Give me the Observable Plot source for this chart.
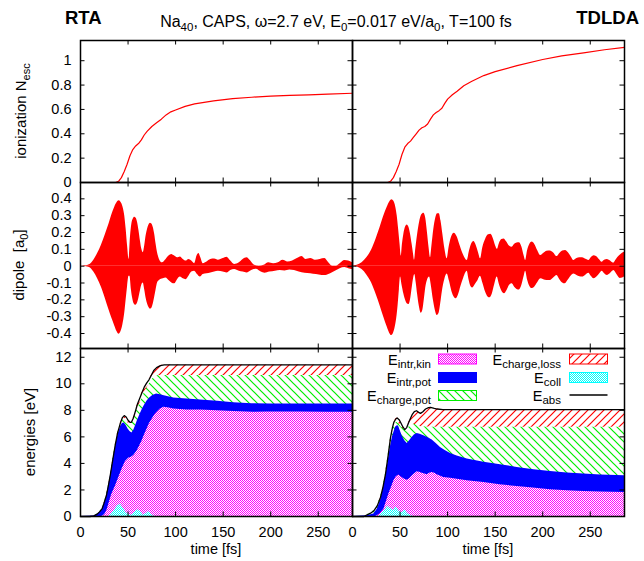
<!DOCTYPE html>
<html><head><meta charset="utf-8">
<script src="https://cdn.jsdelivr.net/npm/d3@7"></script>
<script src="https://cdn.jsdelivr.net/npm/@observablehq/plot@0.6"></script>
<style>
body{margin:0;background:#fff;}
#chart{position:relative;width:644px;height:561px;overflow:hidden;font-family:"Liberation Sans",Arial,Helvetica,sans-serif;}
</style></head><body>
<svg width="0" height="0" style="position:absolute">
<defs>
<pattern id="pKin" width="2" height="2" patternUnits="userSpaceOnUse"><rect width="2" height="2" fill="#fff"/><rect width="1" height="1" fill="#ff00ff"/><rect x="1" y="1" width="1" height="1" fill="#ff00ff"/></pattern>
<pattern id="pColl" width="2" height="2" patternUnits="userSpaceOnUse"><rect width="2" height="2" fill="#fff"/><rect width="1" height="1" fill="#00ffff"/><rect x="1" y="1" width="1" height="1" fill="#00ffff"/></pattern>
<pattern id="pLoss" width="8" height="8" patternUnits="userSpaceOnUse"><rect width="8" height="8" fill="#fff"/><path d="M-2,2 L2,-2 M0,8 L8,0 M6,10 L10,6" stroke="#ff0000" stroke-width="1.2"/></pattern>
<pattern id="pCpot" width="8" height="8" patternUnits="userSpaceOnUse"><rect width="8" height="8" fill="#fff"/><path d="M-2,6 L2,10 M0,0 L8,8 M6,-2 L10,2" stroke="#00ee00" stroke-width="1.2"/></pattern>
</defs></svg>
<div id="chart"></div>
<script>
// ---------------- data ----------------
const xDomain = [0, 286];
const xTicks = [0, 50, 100, 150, 200, 250];
const ionTicks = [0, 0.2, 0.4, 0.6, 0.8, 1];
const dipTicks = [-0.4, -0.3, -0.2, -0.1, 0, 0.1, 0.2, 0.3, 0.4];
const enTicks = [0, 2, 4, 6, 8, 10, 12];

// ionization N_esc  [t (fs), value]
const ionRTA = [[0,0],[30,0],[37,0],[40,0.01],[43,0.04],[46,0.09],[49,0.15],[52,0.22],[55,0.27],[58,0.30],[61,0.32],[64,0.35],[67,0.39],[70,0.42],[75,0.46],[80,0.49],[85,0.52],[90,0.555],[95,0.58],[100,0.595],[110,0.625],[120,0.645],[140,0.67],[160,0.688],[180,0.70],[200,0.71],[220,0.716],[240,0.72],[260,0.726],[286,0.733]];
const ionTDLDA = [[0,0],[37,0],[40,0.01],[43,0.04],[46,0.09],[49,0.15],[52,0.23],[55,0.29],[58,0.32],[61,0.34],[64,0.37],[67,0.40],[70,0.43],[73,0.45],[76,0.46],[79,0.48],[82,0.52],[85,0.555],[88,0.575],[91,0.59],[94,0.61],[97,0.65],[100,0.685],[105,0.72],[110,0.75],[117,0.795],[125,0.83],[138,0.878],[150,0.91],[173,0.96],[200,1.01],[220,1.04],[243,1.065],[265,1.09],[286,1.11]];

// dipole envelopes [t, a0]
const dipRTAUpper = [[0,0],[5,0.002],[10,0.01],[14,0.035],[18,0.075],[22,0.125],[26,0.185],[30,0.25],[33,0.305],[36,0.35],[38.5,0.378],[40.5,0.388],[42.5,0.38],[44.5,0.355],[46.5,0.3],[48,0.22],[49.5,0.12],[51,0.04],[52.5,0.17],[54,0.25],[55.5,0.28],[57,0.29],[58.5,0.285],[60,0.26],[61.5,0.21],[63,0.15],[64.5,0.1],[66,0.08],[67.5,0.12],[69,0.18],[70.5,0.22],[72,0.245],[73.5,0.255],[75,0.25],[76.5,0.23],[78,0.19],[79.5,0.13],[81,0.08],[83,0.04],[86,0.02],[90,0.04],[93,0.06],[96,0.07],[99,0.06],[102,0.05],[105,0.055],[108,0.04],[111,0.03],[114,0.04],[117,0.03],[120,0.015],[122.5,0.06],[124.5,0.075],[126.5,0.05],[129,0.015],[133,0.025],[137,0.04],[141,0.042],[145,0.035],[150,0.045],[154,0.053],[158,0.03],[162,0.01],[167,0.02],[171,0.04],[175,0.05],[179,0.03],[183,0.005],[188,0.0],[193,0.005],[198,0.02],[203,0.015],[208,0.02],[213,0.035],[218,0.025],[223,0.03],[228,0.045],[233,0.057],[237,0.04],[242,0.045],[247,0.035],[252,0.04],[257,0.045],[261,0.02],[265,0.0],[269,0.0],[273,0.015],[278,0.034],[282,0.03],[286,0.02]];
const dipRTALower = [[0,0],[5,-0.002],[10,-0.01],[14,-0.035],[18,-0.075],[22,-0.125],[26,-0.19],[30,-0.26],[33,-0.31],[36,-0.355],[38.5,-0.39],[40.5,-0.405],[42.5,-0.39],[44.5,-0.35],[46.5,-0.28],[48,-0.2],[49.5,-0.12],[51,-0.06],[52,-0.06],[53.5,-0.14],[55,-0.195],[56.5,-0.225],[58,-0.232],[59.5,-0.225],[61,-0.2],[62.5,-0.16],[64,-0.12],[66,-0.1],[67.5,-0.14],[69,-0.19],[70.5,-0.225],[72,-0.245],[73.5,-0.255],[75,-0.25],[76.5,-0.225],[78,-0.185],[79.5,-0.14],[81,-0.1],[83,-0.085],[87,-0.075],[90,-0.07],[93,-0.085],[96,-0.1],[99,-0.105],[102,-0.08],[105,-0.065],[108,-0.075],[111,-0.08],[114,-0.06],[117,-0.035],[120,-0.03],[123,-0.05],[126,-0.065],[129,-0.05],[133,-0.045],[137,-0.04],[141,-0.035],[145,-0.03],[150,-0.035],[154,-0.04],[158,-0.025],[162,-0.02],[167,-0.03],[171,-0.035],[175,-0.04],[180,-0.025],[185,-0.018],[190,-0.035],[194,-0.042],[199,-0.035],[205,-0.03],[210,-0.025],[215,-0.028],[220,-0.022],[225,-0.025],[230,-0.035],[236,-0.042],[242,-0.045],[248,-0.05],[254,-0.055],[258,-0.055],[263,-0.045],[268,-0.03],[273,-0.015],[278,-0.008],[282,-0.015],[286,-0.02]];
const dipTDLDAUpper = [[0,0],[5,0.005],[10,0.02],[15,0.05],[20,0.095],[25,0.165],[29,0.23],[33,0.3],[36.5,0.35],[39,0.38],[41.5,0.394],[43.5,0.385],[45.5,0.35],[47,0.3],[48.5,0.22],[50,0.13],[51.2,0.06],[52.5,0.13],[54,0.19],[55.8,0.232],[57.5,0.245],[59.2,0.232],[61,0.19],[62.7,0.13],[64.2,0.07],[65.2,0.035],[66.5,0.1],[68.5,0.19],[70.5,0.26],[72.8,0.305],[75,0.315],[77,0.285],[78.8,0.2],[80.5,0.11],[82,0.05],[83.5,0.12],[85.5,0.22],[87.5,0.285],[89.5,0.312],[91.3,0.312],[93,0.27],[95,0.19],[97.2,0.1],[99.5,0.044],[101.5,0.11],[104,0.17],[107,0.196],[110,0.175],[113,0.125],[116.5,0.07],[120.6,0.034],[123,0.09],[125.5,0.135],[127.6,0.147],[130,0.125],[132.5,0.08],[134.6,0.044],[137,0.11],[140,0.16],[143,0.186],[145.5,0.19],[148,0.165],[150.5,0.12],[152.3,0.1],[154.5,0.135],[157,0.158],[159.3,0.162],[162,0.145],[165,0.12],[167.9,0.113],[170.5,0.13],[173,0.138],[175.5,0.139],[178,0.115],[180.5,0.06],[182,0.034],[184,0.09],[186.5,0.13],[189,0.143],[191.5,0.13],[194.5,0.095],[198,0.063],[201,0.075],[204.5,0.088],[208,0.09],[211.5,0.078],[215,0.057],[218,0.075],[221,0.09],[224,0.093],[227,0.08],[230,0.055],[232.7,0.034],[236,0.045],[239,0.05],[242,0.05],[245,0.042],[248.5,0.034],[251,0.05],[254,0.062],[256.5,0.058],[259.5,0.04],[262.5,0.024],[265,0.035],[268,0.04],[271,0.032],[274.5,0.018],[277.5,0.04],[280.5,0.06],[283.5,0.075],[286,0.083]];
const dipTDLDALower = [[0,0],[5,-0.005],[10,-0.02],[15,-0.052],[20,-0.098],[25,-0.17],[29,-0.235],[33,-0.305],[36.5,-0.362],[39,-0.398],[41,-0.412],[43,-0.4],[45,-0.36],[46.5,-0.31],[48,-0.23],[49.3,-0.14],[50.5,-0.065],[52,-0.11],[54,-0.165],[56,-0.205],[58,-0.225],[59.5,-0.228],[61,-0.2],[62.5,-0.14],[64,-0.08],[65.5,-0.05],[67,-0.1],[68.5,-0.17],[70.3,-0.24],[72.2,-0.279],[74,-0.26],[75.5,-0.2],[77,-0.13],[79,-0.08],[81,-0.065],[83,-0.12],[85,-0.2],[87,-0.26],[89,-0.293],[91,-0.28],[92.8,-0.22],[94.5,-0.15],[97,-0.08],[99.5,-0.046],[102,-0.09],[104.5,-0.15],[107,-0.185],[109,-0.194],[111.5,-0.17],[114,-0.12],[117,-0.07],[120.6,-0.03],[122.5,-0.08],[124.5,-0.12],[126.5,-0.129],[129,-0.11],[131.5,-0.09],[134.5,-0.06],[137,-0.1],[140,-0.155],[142.5,-0.183],[144.5,-0.188],[147,-0.165],[149.5,-0.11],[152.1,-0.065],[154.5,-0.11],[157,-0.148],[159.8,-0.164],[162.5,-0.145],[165,-0.115],[167.9,-0.105],[170.5,-0.125],[173,-0.138],[175.5,-0.141],[178,-0.115],[180.5,-0.06],[182,-0.03],[184,-0.08],[186.5,-0.12],[189,-0.133],[191.5,-0.125],[194.5,-0.1],[198,-0.075],[201,-0.08],[204.5,-0.085],[208,-0.085],[211.5,-0.07],[215,-0.055],[218,-0.08],[221,-0.1],[223.5,-0.105],[226.5,-0.085],[230,-0.058],[232.7,-0.046],[236,-0.055],[239,-0.063],[242,-0.065],[245,-0.055],[248.5,-0.042],[251,-0.06],[254,-0.075],[257,-0.065],[260,-0.045],[262.5,-0.03],[265,-0.045],[268,-0.055],[271,-0.045],[274.8,-0.026],[278,-0.05],[281.5,-0.073],[284,-0.07],[286,-0.065]];

// energies [t, eV] : cumulative upper boundaries
const rtaAbs = [[0,0],[10,0],[14,0.05],[17.5,0.18],[20,0.35],[22.8,0.6],[24.5,0.95],[27.3,1.6],[29.5,2.4],[31.5,3.2],[34,4.3],[36.8,5.5],[39,6.3],[42,7.05],[44,7.45],[46,7.6],[48,7.5],[50,7.25],[52,7.1],[53.5,7.1],[55.5,7.4],[57.8,7.95],[60,8.5],[62,8.85],[64.5,9.3],[67,9.75],[69.5,10.05],[72,10.3],[74.5,10.65],[77,11.0],[80,11.22],[84,11.37],[88,11.42],[286,11.42]];
const rtaChargePot = [[0,0],[10,0],[14,0.05],[17.5,0.18],[20,0.35],[22.8,0.6],[24.5,0.95],[27.3,1.6],[29.5,2.4],[31.5,3.2],[34,4.3],[36.8,5.45],[39,6.2],[42,6.95],[44,7.3],[46,7.42],[48,7.3],[50,7.05],[52,6.95],[53.5,6.95],[55.5,7.2],[57.8,7.7],[60,8.15],[62,8.45],[64.5,8.9],[67,9.3],[69.5,9.65],[72,9.95],[74.5,10.25],[77,10.45],[80,10.58],[83,10.62],[286,10.62]];
const rtaIntrPot = [[0,0],[14,0.04],[17.5,0.15],[20,0.3],[22.8,0.55],[24.5,0.9],[27.3,1.5],[29.5,2.3],[31.5,3.05],[34,4.15],[36.8,5.3],[39,6.05],[42,6.75],[44,7.0],[46,7.05],[48,6.85],[50,6.6],[52,6.4],[54,6.3],[56,6.5],[58,6.85],[60,7.25],[62,7.6],[64.8,8.05],[67,8.35],[70,8.7],[73,8.95],[76,9.12],[80,9.23],[84,9.18],[88,9.1],[98,8.93],[112,8.86],[126,8.78],[144,8.68],[161,8.57],[180,8.5],[200,8.48],[230,8.47],[260,8.48],[286,8.48]];
const rtaIntrKin = [[0,0],[22,0],[24,0.05],[26,0.2],[28,0.5],[30,1.0],[33,1.7],[36.8,2.3],[40,2.9],[43.8,3.6],[47.3,4.15],[50.8,4.4],[53,4.45],[56,4.6],[59.6,4.96],[62,5.3],[64.8,5.71],[67,6.1],[70,6.6],[72.5,7.0],[75.4,7.35],[78,7.65],[80.6,7.85],[84,8.1],[87.6,8.23],[92,8.2],[98,8.1],[112,8.03],[126,8.02],[144,7.97],[161,7.92],[182,7.85],[196,7.87],[231,7.87],[260,7.86],[286,7.85]];
const rtaColl = [[0,0],[30,0],[33,0.2],[36,0.5],[39,0.8],[42,0.95],[45,0.6],[48,0.3],[51,0.15],[54,0.1],[57,0.3],[60,0.5],[63,0.35],[66,0.1],[69,0.2],[72,0.4],[75,0.15],[78,0],[286,0]];

const tdAbs = [[0,0],[12,0],[15.4,0.13],[19,0.25],[22.4,0.43],[26,0.8],[29.4,1.43],[32,2.2],[34.7,3.2],[37.5,4.6],[40,5.96],[42,6.7],[43.5,7.1],[45.5,7.35],[47,7.42],[49,7.3],[50.5,7.1],[53,6.75],[55,6.55],[57,6.7],[59.2,7.1],[61,7.4],[62.7,7.67],[65,7.9],[67.3,7.97],[69.5,7.85],[71.5,7.77],[74,7.9],[76.8,8.1],[80,8.2],[82,8.23],[86,8.15],[89,8.1],[95,8.05],[286,8.05]];
const tdChargePot = [[0,0],[12,0],[15.4,0.13],[19,0.25],[22.4,0.43],[26,0.8],[29.4,1.43],[32,2.2],[34.7,3.2],[37.5,4.6],[40,5.9],[42,6.6],[44,6.95],[46,7.1],[48.7,7.0],[51,6.75],[54,6.6],[56,6.62],[59.2,6.72],[62,6.85],[64.5,6.95],[67,6.9],[71.5,6.77],[78.5,6.75],[85,6.72],[286,6.72]];
const tdIntrPot = [[0,0],[15,0.05],[22.4,0.18],[26,0.55],[29.4,1.18],[32,2.0],[34.7,2.94],[37.5,4.2],[40,5.3],[42,6.0],[45.2,6.72],[47.5,6.85],[48.7,6.77],[50.5,6.4],[52.2,6.09],[55,5.7],[57.5,5.5],[60,5.7],[62.7,5.96],[65,6.15],[68,6.26],[71,6.2],[75,6.09],[79,5.95],[83.8,5.76],[88,5.5],[92.5,5.2],[97,5.0],[103,4.75],[110,4.55],[120.6,4.33],[138.1,4.08],[155.6,3.9],[173.2,3.7],[190.7,3.52],[208.2,3.4],[225.7,3.27],[243.2,3.2],[260.8,3.12],[286,3.07]];
const tdIntrKin = [[0,0],[24,0],[26,0.05],[29,0.2],[33,0.55],[36,1.2],[38.2,1.69],[41,2.2],[43.5,2.7],[46,3.0],[48.7,3.12],[51,3.0],[54,2.85],[57.5,2.74],[60,2.85],[62.7,3.05],[65,3.2],[68,3.37],[70.5,3.33],[73.3,3.25],[76,3.2],[78.5,3.15],[81,3.25],[83.8,3.32],[86.5,3.25],[89,3.15],[96,2.94],[103,2.89],[120.6,2.69],[138.1,2.57],[155,2.39],[173,2.26],[190,2.14],[208,2.01],[226,1.94],[243,1.89],[261,1.84],[286,1.81]];
const tdColl = [[0,0],[28,0],[31,0.25],[34,0.5],[37,0.8],[40,0.6],[43,0.45],[46,0.7],[49,0.4],[52,0.3],[55,0.5],[58,0.2],[61,0.1],[64,0],[286,0]];

// ---------------- layout ----------------
const FONT = '"Liberation Sans", Arial, Helvetica, sans-serif';
const chart = document.getElementById("chart");
const PW = 272, TL = 4.5;
const colX = [80, 352];
const rowY = [40, 182, 348];
const rowH = [142, 166, 168];
const M = {l: 50, r: 20, t: 20, b: 30};
const X = d => d[0], Y = d => d[1], Z = d => 0;

function panel(col, row, yDomain, yTicks, dataMarks) {
  const H = rowH[row];
  const showY = col === 0, showX = row === 2;
  const marks = [
    ...dataMarks,
    Plot.frame({stroke: "#000", strokeWidth: 1.5}),
    Plot.tickX(xTicks, {x: d => d, insetBottom: H - TL, stroke: "#000"}),
    Plot.tickX(xTicks, {x: d => d, insetTop: H - TL, stroke: "#000"}),
    Plot.tickY(yTicks, {y: d => d, insetRight: PW - TL, stroke: "#000"}),
    Plot.tickY(yTicks, {y: d => d, insetLeft: PW - TL, stroke: "#000"})
  ];
  if (showY) marks.push(Plot.axisY(yTicks, {anchor: "left", tickSize: 0, tickPadding: 9, fontSize: 14.5, label: null, tickFormat: d => String(d)}));
  if (showX) marks.push(Plot.axisX(xTicks, {anchor: "bottom", tickSize: 0, tickPadding: 10, fontSize: 14.5, label: null, tickFormat: d => String(d)}));
  const svg = Plot.plot({
    width: PW + M.l + M.r, height: H + M.t + M.b,
    marginLeft: M.l, marginRight: M.r, marginTop: M.t, marginBottom: M.b,
    x: showX ? {domain: xDomain} : {domain: xDomain, axis: null},
    y: showY ? {domain: yDomain} : {domain: yDomain, axis: null},
    style: {background: "transparent", overflow: "visible", fontFamily: FONT, fontSize: "14.5px", color: "#000"},
    marks
  });
  svg.style.position = "absolute";
  svg.style.left = (colX[col] - M.l) + "px";
  svg.style.top = (rowY[row] - M.t) + "px";
  chart.appendChild(svg);
}

const ionMarks = d => [Plot.line(d, {x: X, y: Y, stroke: "#ff0000", strokeWidth: 1.2})];
const dipMarks = (u, l) => [
  Plot.areaY(u, {x: X, y1: Z, y2: Y, fill: "#ff0000", curve: "monotone-x"}),
  Plot.areaY(l, {x: X, y1: Z, y2: Y, fill: "#ff0000", curve: "monotone-x"})
];
const enMarks = (abs, cpot, ipot, kin, coll) => [
  Plot.areaY(abs, {x: X, y1: Z, y2: Y, fill: "url(#pLoss)"}),
  Plot.areaY(cpot, {x: X, y1: Z, y2: Y, fill: "url(#pCpot)"}),
  Plot.areaY(ipot, {x: X, y1: Z, y2: Y, fill: "#0000ff"}),
  Plot.areaY(kin, {x: X, y1: Z, y2: Y, fill: "url(#pKin)"}),
  Plot.areaY(coll, {x: X, y1: Z, y2: Y, fill: "url(#pColl)"}),
  Plot.line(abs, {x: X, y: Y, stroke: "#000", strokeWidth: 1.3})
];

panel(0, 0, [0, 1.166], ionTicks, ionMarks(ionRTA));
panel(1, 0, [0, 1.166], ionTicks, ionMarks(ionTDLDA));
panel(0, 1, [-0.489, 0.497], dipTicks, dipMarks(dipRTAUpper, dipRTALower));
panel(1, 1, [-0.489, 0.497], dipTicks, dipMarks(dipTDLDAUpper, dipTDLDALower));
panel(0, 2, [0, 12.66], enTicks, enMarks(rtaAbs, rtaChargePot, rtaIntrPot, rtaIntrKin, rtaColl));
panel(1, 2, [0, 12.66], enTicks, enMarks(tdAbs, tdChargePot, tdIntrPot, tdIntrKin, tdColl));

// ---------------- text overlay ----------------
const ov = d3.select(chart).append("svg")
  .attr("width", 644).attr("height", 561)
  .style("position", "absolute").style("left", "0px").style("top", "0px")
  .style("overflow", "visible")
  .attr("font-family", FONT).attr("fill", "#000");

function rich(x, y, parts, {size = 15, sub = 11, shift = 4, anchor = "start", weight = "normal", rotate = 0} = {}) {
  const t = ov.append("text").attr("text-anchor", anchor).attr("font-size", size).attr("font-weight", weight);
  if (rotate) t.attr("transform", `translate(${x},${y}) rotate(${rotate})`);
  else t.attr("x", x).attr("y", y);
  let down = false;
  for (const [s, isSub] of parts) {
    const ts = t.append("tspan").text(s);
    if (isSub) { ts.attr("font-size", sub); if (!down) { ts.attr("dy", shift); down = true; } }
    else if (down) { ts.attr("dy", -shift); down = false; }
  }
  return t;
}

rich(336, 27, [["Na"], ["40", 1], [", CAPS, \u03c9=2.7 eV, E"], ["0", 1], ["=0.017 eV/a"], ["0", 1], [", T=100 fs"]], {size: 16, sub: 11.5, anchor: "middle"});
rich(65, 24, [["RTA"]], {size: 18.5, weight: "bold"});
rich(639, 24, [["TDLDA"]], {size: 18.5, weight: "bold", anchor: "end"});

rich(26, 111, [["ionization N"], ["esc", 1]], {anchor: "middle", rotate: -90, size: 15, sub: 11});
rich(23.5, 265, [["dipole  [a"], ["0", 1], ["]"]], {anchor: "middle", rotate: -90, size: 15, sub: 11}).style("white-space", "pre");
rich(35, 432, [["energies [eV]"]], {anchor: "middle", rotate: -90, size: 15});
rich(216, 554, [["time [fs]"]], {anchor: "middle", size: 14.5});
rich(488, 554, [["time [fs]"]], {anchor: "middle", size: 14.5});

// legend
const legendRows = [364.5, 383, 401];
const legendItems = [
  {label: [["E"], ["intr,kin", 1]], fill: "url(#pKin)", stroke: "#ff00ff", tx: 431, sx: 438.5, r: 0},
  {label: [["E"], ["intr,pot", 1]], fill: "#0000ff", stroke: "#0000ff", tx: 431, sx: 438.5, r: 1},
  {label: [["E"], ["charge,pot", 1]], fill: "url(#pCpot)", stroke: "#00ee00", tx: 431, sx: 438.5, r: 2},
  {label: [["E"], ["charge,loss", 1]], fill: "url(#pLoss)", stroke: "#ff0000", tx: 561, sx: 569.5, r: 0},
  {label: [["E"], ["coll", 1]], fill: "url(#pColl)", stroke: "#00ffff", tx: 561, sx: 569.5, r: 1},
  {label: [["E"], ["abs", 1]], line: true, tx: 561, sx: 569.5, r: 2}
];
for (const it of legendItems) {
  const y = legendRows[it.r];
  rich(it.tx, y, it.label, {anchor: "end", size: 14.5, sub: 11.5, shift: 3});
  if (it.line) {
    ov.append("line").attr("x1", it.sx).attr("x2", it.sx + 38).attr("y1", y - 6).attr("y2", y - 6).attr("stroke", "#000").attr("stroke-width", 1.3);
  } else {
    ov.append("rect").attr("x", it.sx).attr("y", y - 10.5).attr("width", 38).attr("height", 10)
      .attr("fill", it.fill).attr("stroke", it.stroke).attr("stroke-width", 1);
  }
}
</script>
</body></html>
